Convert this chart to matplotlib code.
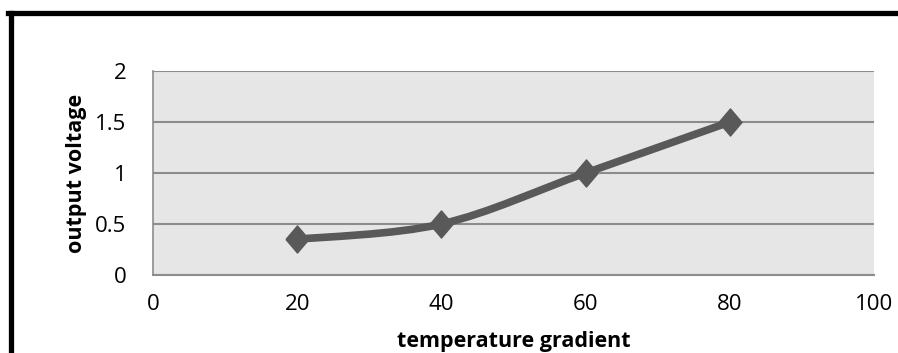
import matplotlib
matplotlib.use("Agg")
import matplotlib.pyplot as plt
from matplotlib.path import Path
from matplotlib.patches import PathPatch
from matplotlib.lines import Line2D
import numpy as np

# data
gradient = [20, 40, 60, 80]
voltage = [0.35, 0.5, 1.0, 1.5]
x_ticks = [0, 20, 40, 60, 80, 100]
y_ticks = [0, 0.5, 1, 1.5, 2]

line_col = '#595959'
grid_col = '#8c8c8c'

plt.rcParams['font.family'] = ['Open Sans', 'DejaVu Sans']

fig = plt.figure(figsize=(8.98, 3.53), dpi=100)
ax = fig.add_axes([153/898, 1-275/353, (874-153)/898, (275-71)/353])
ax.set_facecolor('#e6e6e6')
ax.set_xlim(0, 100)
ax.set_ylim(0, 2)
ax.set_xticks(x_ticks)
ax.set_yticks(y_ticks)
ax.set_xticklabels([str(v) for v in x_ticks])
ax.set_yticklabels(['0', '0.5', '1', '1.5', '2'])
ax.tick_params(length=0, labelsize=16)
ax.tick_params(axis='y', pad=19)
ax.tick_params(axis='x', pad=14)
ax.yaxis.grid(True, color=grid_col, linewidth=1.5)
ax.set_axisbelow(True)
for s in ['top', 'right']:
    ax.spines[s].set_visible(False)
ax.spines['left'].set_color(grid_col)
ax.spines['bottom'].set_color(grid_col)
ax.spines['left'].set_linewidth(1.2)
ax.spines['bottom'].set_linewidth(1.5)

# smoothed line like the office chart (bezier through the data points)
xs = np.array(gradient, dtype=float)
ys = np.array(voltage, dtype=float)
verts = [(xs[0], ys[0])]
codes = [Path.MOVETO]
t = 1/6
for i in range(len(xs) - 1):
    p0 = (xs[max(i-1, 0)], ys[max(i-1, 0)])
    p1 = (xs[i], ys[i])
    p2 = (xs[i+1], ys[i+1])
    p3 = (xs[min(i+2, len(xs)-1)], ys[min(i+2, len(xs)-1)])
    c1 = (p1[0] + (p2[0]-p0[0])*t, p1[1] + (p2[1]-p0[1])*t)
    c2 = (p2[0] - (p3[0]-p1[0])*t, p2[1] - (p3[1]-p1[1])*t)
    verts += [c1, c2, p2]
    codes += [Path.CURVE4]*3
ax.add_patch(PathPatch(Path(verts, codes), facecolor='none', edgecolor=line_col,
                       linewidth=5.5, capstyle='butt', zorder=3))
diamond = [(-0.85, 0), (0, 1), (0.85, 0), (0, -1), (-0.85, 0)]
ax.plot(gradient, voltage, linestyle='none', marker=diamond, markersize=19.5,
        color=line_col, zorder=4)

ax.set_xlabel('temperature gradient', fontsize=15.5, fontweight='bold')
ax.set_ylabel('output voltage', fontsize=15.5, fontweight='bold')
ax.xaxis.set_label_coords(0.5, (275-341)/204)
ax.xaxis.label.set_verticalalignment('center')
ax.yaxis.set_label_coords((76-153)/721, 0.5)
ax.yaxis.label.set_verticalalignment('center')

# black frame (top and left edges of the cropped border)
fig.add_artist(Line2D([8/898, 1], [1-12.5/353, 1-12.5/353], color='black', linewidth=3.8,
                      transform=fig.transFigure))
fig.add_artist(Line2D([10.5/898, 10.5/898], [0, 1-12.5/353], color='black', linewidth=3.8,
                      transform=fig.transFigure))

fig.savefig('out.png', dpi=100, facecolor='white')
